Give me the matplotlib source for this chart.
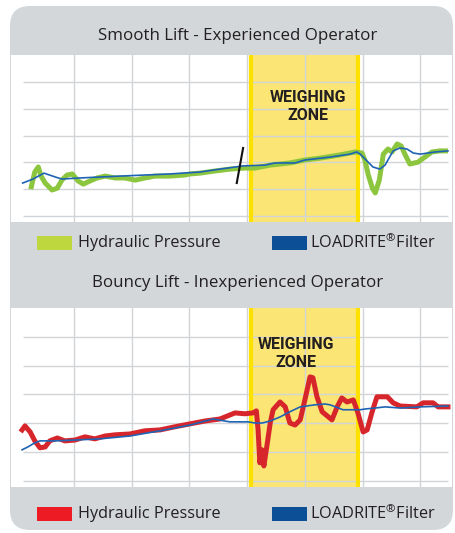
import numpy as np
import matplotlib.pyplot as plt
from matplotlib.patches import FancyBboxPatch, Rectangle

plt.rcParams['font.family'] = ['Open Sans', 'DejaVu Sans']
plt.rcParams['mathtext.fontset'] = 'custom'
plt.rcParams['mathtext.rm'] = 'Open Sans'

# Smooth lift (experienced operator)
smooth_x = [0.25, 0.32, 0.38, 0.43, 0.50, 0.62, 0.71, 0.79, 0.88, 0.97, 1.07, 1.16, 1.28, 1.40,
            1.54, 1.71, 1.88, 2.06, 2.23, 2.40, 2.66, 2.92, 3.01, 3.18, 3.44, 3.70, 3.96, 4.14,
            4.40, 4.74, 5.00, 5.26, 5.61, 5.87, 5.99, 6.04, 6.10, 6.17, 6.22, 6.29, 6.36, 6.44,
            6.51, 6.60, 6.67, 6.74, 6.82, 6.96, 7.08, 7.20, 7.34, 7.48]
smooth_pressure = [1.00, 1.64, 1.83, 1.49, 1.23, 0.97, 1.04, 1.34, 1.53, 1.57, 1.31, 1.19, 1.31, 1.42,
                   1.49, 1.42, 1.42, 1.34, 1.42, 1.49, 1.49, 1.53, 1.57, 1.60, 1.68, 1.75, 1.79, 1.79,
                   1.90, 1.98, 2.09, 2.16, 2.28, 2.39, 2.35, 2.09, 1.53, 1.04, 0.86, 1.34, 2.31, 2.50,
                   2.39, 2.69, 2.61, 2.28, 1.94, 2.01, 2.20, 2.39, 2.43, 2.43]
smooth_filter_x = [0.11, 0.29, 0.48, 0.67, 0.79, 1.10, 1.80, 2.66, 3.18, 3.53, 3.93, 4.31, 4.48,
                   4.83, 5.00, 5.44, 5.78, 5.90, 5.96, 6.06, 6.18, 6.30, 6.39, 6.53, 6.65, 6.77,
                   6.88, 7.00, 7.26, 7.48]
smooth_filter = [1.23, 1.38, 1.60, 1.46, 1.38, 1.42, 1.49, 1.57, 1.64, 1.75, 1.87, 1.90, 1.98,
                 1.98, 2.09, 2.20, 2.31, 2.39, 2.31, 2.09, 1.83, 1.75, 1.90, 2.43, 2.54, 2.50,
                 2.35, 2.31, 2.39, 2.43]
# the little black tick mark on the smooth curve
tick_x = [3.93, 3.82]
tick_y = [2.54, 1.23]

# Bouncy lift (inexperienced operator)
bouncy_x = [0.10, 0.15, 0.24, 0.32, 0.41, 0.50, 0.58, 0.71, 0.84, 1.02, 1.19, 1.36, 1.54, 1.71,
            1.97, 2.23, 2.49, 2.75, 3.01, 3.27, 3.53, 3.79, 3.96, 4.10, 4.16, 4.19, 4.22, 4.26,
            4.29, 4.35, 4.40, 4.45, 4.57, 4.66, 4.74, 4.83, 4.92, 5.00, 5.09, 5.14, 5.21, 5.30,
            5.47, 5.56, 5.64, 5.73, 5.84, 5.92, 6.01, 6.08, 6.16, 6.25, 6.43, 6.53, 6.65, 6.94,
            7.05, 7.22, 7.31, 7.48]
bouncy_pressure = [1.77, 1.91, 1.70, 1.39, 1.15, 1.18, 1.39, 1.49, 1.39, 1.42, 1.53, 1.46, 1.56, 1.60,
                   1.63, 1.74, 1.77, 1.88, 1.98, 2.08, 2.15, 2.36, 2.33, 2.36, 2.43, 1.77, 0.63, 1.08,
                   0.52, 1.32, 2.01, 2.47, 2.74, 2.57, 2.01, 1.94, 2.12, 2.81, 3.61, 3.58, 2.92, 2.40,
                   2.12, 2.57, 2.88, 2.74, 2.81, 2.36, 1.70, 1.77, 2.36, 2.92, 2.92, 2.71, 2.60, 2.57,
                   2.71, 2.71, 2.57, 2.57]
bouncy_filter_x = [0.10, 0.20, 0.32, 0.41, 0.67, 1.02, 1.45, 1.97, 2.49, 3.01, 3.41, 3.70, 4.01,
                   4.14, 4.26, 4.40, 4.57, 4.74, 4.92, 5.17, 5.35, 5.44, 5.66, 5.96, 6.06, 6.22,
                   6.39, 6.65, 7.00, 7.48]
bouncy_filter = [1.08, 1.18, 1.32, 1.39, 1.39, 1.42, 1.46, 1.56, 1.74, 1.94, 2.15, 2.05, 2.05,
                 2.01, 2.01, 2.08, 2.22, 2.40, 2.57, 2.64, 2.67, 2.64, 2.47, 2.47, 2.50, 2.53,
                 2.57, 2.53, 2.57, 2.60]

zone = (4.07, 5.92)
titles = ["Smooth Lift - Experienced Operator", "Bouncy Lift - Inexperienced Operator"]

W, H = 456, 533
fig = plt.figure(figsize=(W / 100, H / 100), dpi=100)
fig.patch.set_facecolor('white')

# background axes in pixel coords for the grey card, titles and legends
bg = fig.add_axes([0, 0, 1, 1], zorder=0)
bg.set_xlim(0, W)
bg.set_ylim(H, 0)
bg.axis('off')
bg.add_patch(FancyBboxPatch((10, 6), 443, 524, boxstyle="round,pad=0,rounding_size=20",
                            facecolor='#d3d7da', edgecolor='none'))

GREY_GRID = '#d2d5d8'
YEL_FILL = '#fbe574'
YEL_EDGE = '#ffe100'


def px_axes(x0, y0, x1, y1):
    return fig.add_axes([x0 / W, 1 - y1 / H, (x1 - x0) / W, (y1 - y0) / H], zorder=2)


def draw_panel(ax, ylim, label_x, label_y):
    ax.set_facecolor('white')
    ax.set_xlim(-0.092, 7.55)
    ax.set_ylim(*ylim)
    ax.set_xticks([])
    ax.set_yticks([])
    for s in ax.spines.values():
        s.set_visible(False)
    ax.axvspan(zone[0], zone[1], color=YEL_FILL, lw=0, zorder=1)
    for i in range(1, 8):
        ax.axvline(i, color=GREY_GRID, lw=1.0, zorder=1.5)
    ax.hlines(range(6), 0.11, 7.48, color=GREY_GRID, lw=1.0, zorder=1.5)
    ax.axvline(zone[0], color=YEL_EDGE, lw=3, zorder=1.6)
    ax.axvline(zone[1], color=YEL_EDGE, lw=3, zorder=1.6)
    ax.text(label_x, label_y, "WEIGHING\nZONE", ha='center', va='center', fontsize=11.5,
            fontweight='bold', color='#231f20', linespacing=1.25, zorder=3,
            family=['Roboto', 'DejaVu Sans'])


# top chart
ax1 = px_axes(11, 55, 452, 222)
draw_panel(ax1, (-0.224, 6.01), 5.06, 4.09)
ax1.plot(smooth_x, smooth_pressure, color='#8cc63f', lw=3.6, solid_capstyle='butt', zorder=4)
ax1.plot(smooth_filter_x, smooth_filter, color='#1f63b5', lw=1.2, zorder=5)
ax1.plot(tick_x, tick_y, color='#111111', lw=1.5, zorder=6)

# bottom chart
ax2 = px_axes(11, 308, 452, 487)
draw_panel(ax2, (-0.21, 6.0), 4.85, 4.41)
ax2.plot(bouncy_x, bouncy_pressure, color='#d7262b', lw=3.6, zorder=4)
ax2.plot(bouncy_filter_x, bouncy_filter, color='#1f63b5', lw=1.2, zorder=5)

# titles
bg.text(238, 36, titles[0], ha='center', va='center', fontsize=12.2, color='#231f20')
bg.text(238, 283, titles[1], ha='center', va='center', fontsize=12.2, color='#231f20')

# legends
legend_rows = [(243, '#bfd73f'), (514, '#ed1c24')]
for yc, col in legend_rows:
    bg.add_patch(Rectangle((37, yc - 7), 35, 14, facecolor=col, edgecolor='none'))
    bg.text(78, yc, "Hydraulic Pressure", ha='left', va='center', fontsize=11.7, color='#231f20')
    bg.add_patch(Rectangle((272, yc - 7), 35, 14, facecolor='#0d4f96', edgecolor='none'))
    bg.text(310, yc, "LOADRITE$^{\\mathrm{\u00ae}}$Filter", ha='left', va='center',
            fontsize=11.7, color='#231f20')

fig.savefig('out.png', dpi=100)
